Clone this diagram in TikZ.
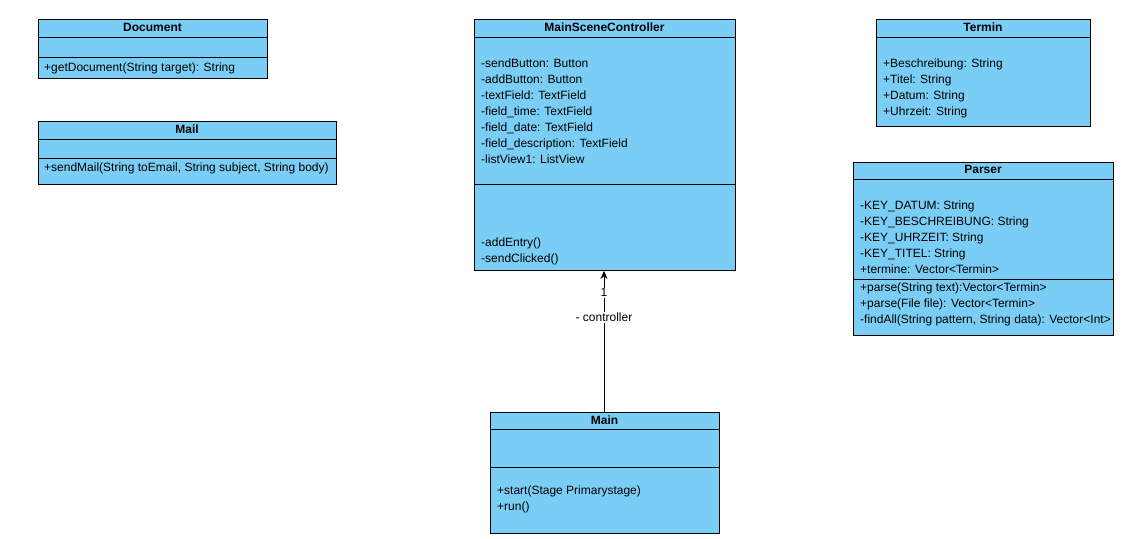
\documentclass[tikz,border=0pt]{standalone}
\usepackage{fontspec}
\setmainfont{Liberation Sans}
\usetikzlibrary{arrows.meta}
\definecolor{umlblue}{RGB}{122,206,245}
\tikzset{
  umlbox/.style={draw=black, fill=umlblue, line width=0.9pt, anchor=north west, inner sep=0pt},
  sep/.style={draw=black, line width=0.9pt},
  ttl/.style={font=\fontsize{12}{14}\selectfont\bfseries, anchor=base, inner sep=0pt},
  txt/.style={font=\fontsize{12}{14}\selectfont, anchor=base west, inner sep=0pt},
  lbl/.style={font=\fontsize{12}{14}\selectfont, fill=white, inner sep=1pt},
  conn/.style={draw=black, line width=0.9pt, -{Stealth[length=8pt,width=7pt]}}
}
% box: name, x1, y1, x2, y2
\newcommand{\umlbox}[5]{\node[umlbox, minimum width=#4pt-#2pt, minimum height=#5pt-#3pt] (#1) at (#2,#3) {};}
\newcommand{\hsep}[3]{\draw[sep] (#1,#3) -- (#2,#3);}
\newcommand{\tlines}[4]{% name prefix, x, first baseline, list
  \foreach \t [count=\i] in {#4} {
    \node[txt] (#1\i) at (#2, #3+16*\i-16) {\t};
  }}
\begin{document}
\begin{tikzpicture}[x=1pt,y=-1pt]
\useasboundingbox (0,0) rectangle (1137,538);
\fill[white] (0,0) rectangle (1137,538);

% Document
\umlbox{doc}{38}{19}{267}{78}
\hsep{38}{267}{37}\hsep{38}{267}{57}
\node[ttl] (doct) at (152.5,31.5) {Document};
\node[txt] (docm) at (44,71.5) {+getDocument(String target): String};

% Mail
\umlbox{mail}{38}{121}{336}{184}
\hsep{38}{336}{139}\hsep{38}{336}{158}
\node[ttl] (mailt) at (187,133.5) {Mail};
\node[txt] (mailm) at (44,171.5) {+sendMail(String toEmail, String subject, String body)};

% MainSceneController
\umlbox{msc}{474}{19}{735}{270}
\hsep{474}{735}{37}\hsep{474}{735}{184}
\node[ttl] (msct) at (604.5,31.5) {MainSceneController};
\tlines{msca}{481}{67.5}{{-sendButton: Button},{-addButton: Button},{-textField: TextField},{-field\_time: TextField},{-field\_date: TextField},{-field\_description: TextField},{-listView1: ListView}}
\tlines{mscm}{481}{246.5}{{-addEntry()},{-sendClicked()}}

% Termin
\umlbox{termin}{876}{19}{1090}{126}
\hsep{876}{1090}{37}
\node[ttl] (termint) at (983,31.5) {Termin};
\tlines{termina}{883}{67.5}{{+Beschreibung: String},{+Titel: String},{+Datum: String},{+Uhrzeit: String}}

% Parser
\umlbox{parser}{853}{162}{1113}{335}
\hsep{853}{1113}{179}\hsep{853}{1113}{279}
\node[ttl] (parsert) at (983,173.5) {Parser};
\tlines{parsera}{860}{209.5}{{-KEY\_DATUM: String},{-KEY\_BESCHREIBUNG: String},{-KEY\_UHRZEIT: String},{-KEY\_TITEL: String},{+termine: Vector<Termin>}}
\tlines{parserm}{860}{291.5}{{+parse(String text):Vector<Termin>},{+parse(File file): Vector<Termin>},{-findAll(String pattern, String data): Vector<Int>}}

% Main
\umlbox{main}{490}{412}{719}{533}
\hsep{490}{719}{429}\hsep{490}{719}{467}
\node[ttl] (maint) at (604.5,424.5) {Main};
\tlines{mainm}{497}{494.5}{{+start(Stage Primarystage)},{+run()}}

% connector
\draw[conn] (main.north -| 604,0) -- (msc.south -| 604,0)
  node[lbl, pos=0.845] (mult) {1}
  node[lbl, pos=0.67] (role) {- controller};
\end{tikzpicture}
\end{document}
